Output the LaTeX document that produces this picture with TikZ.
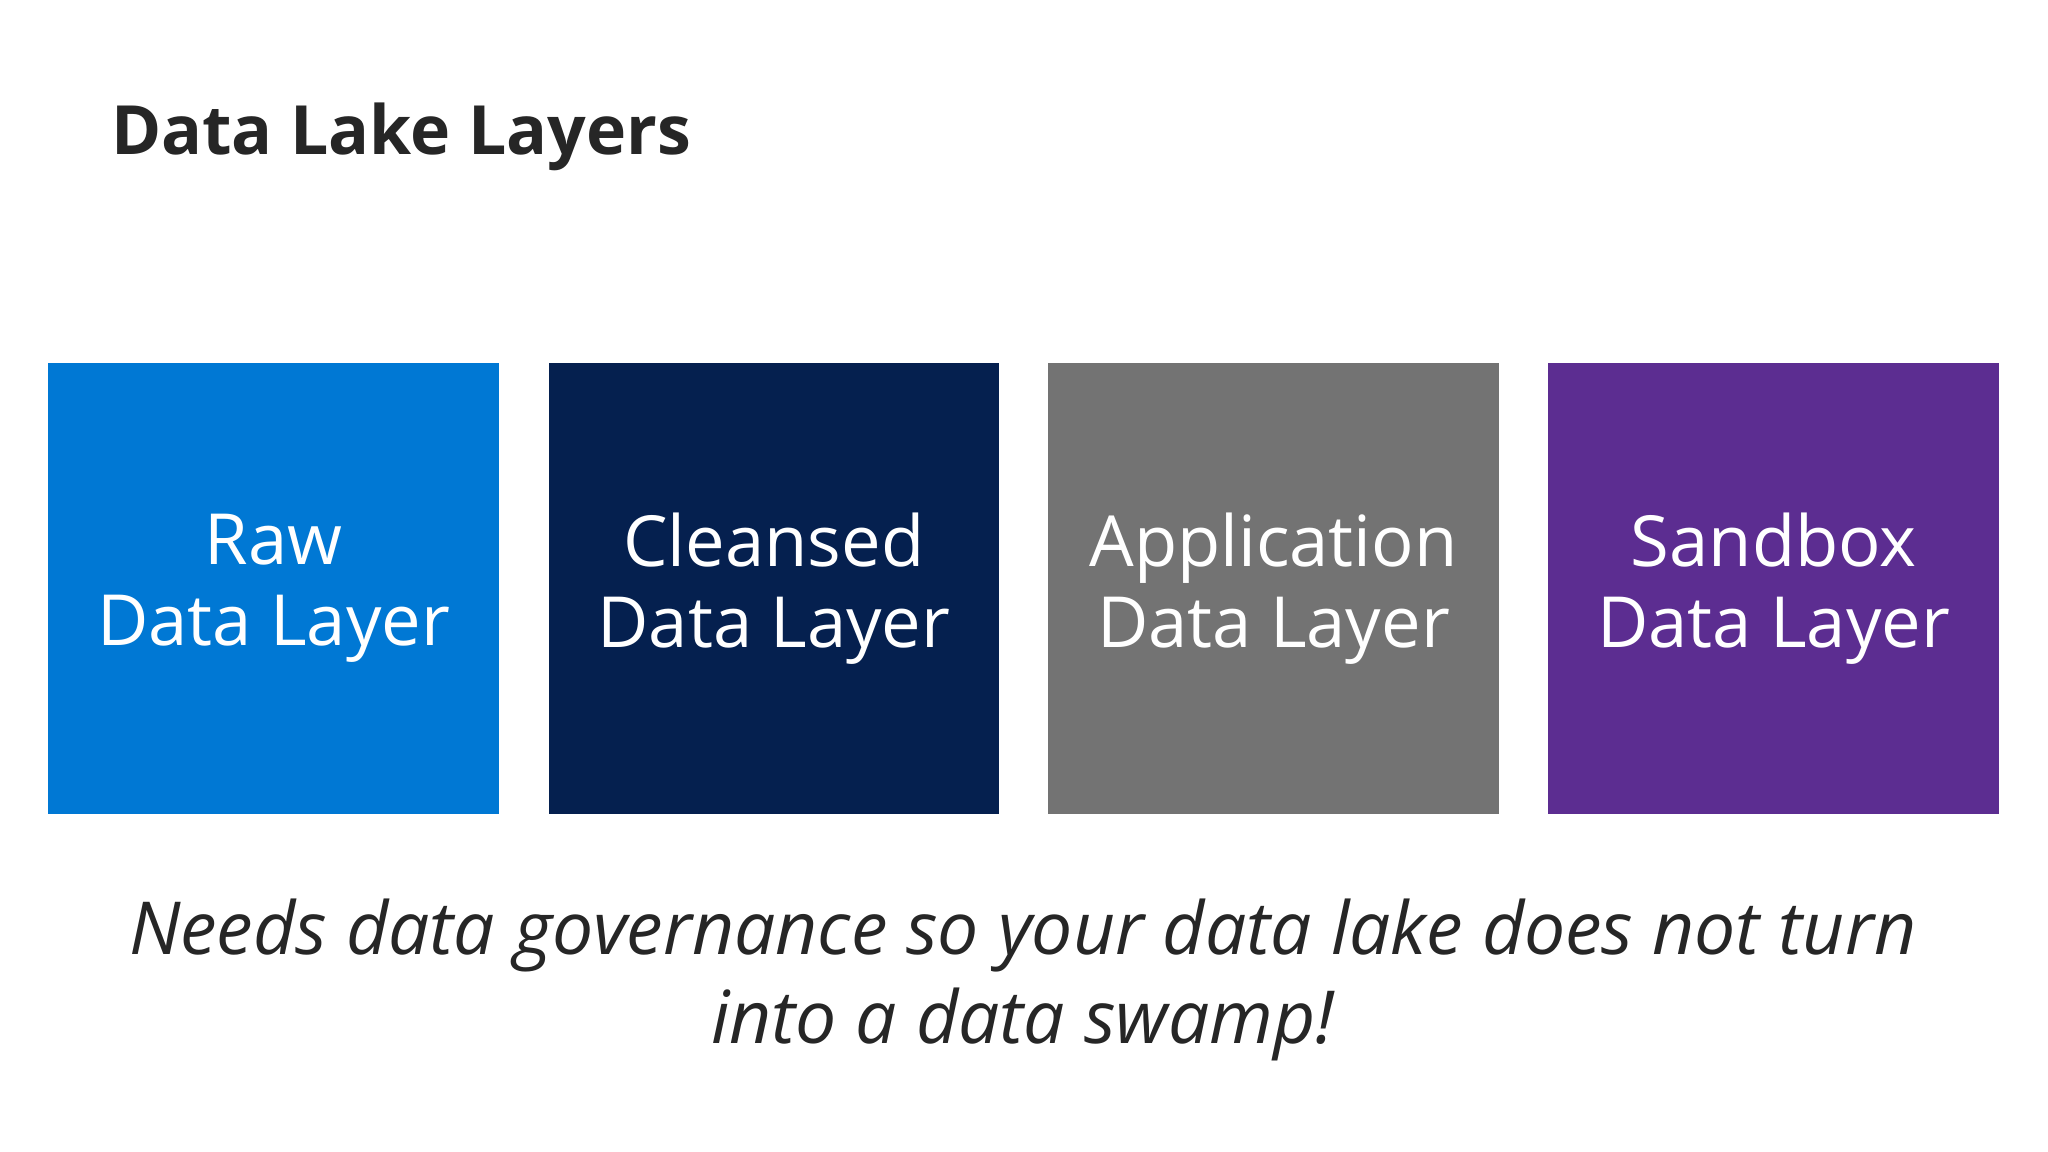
\documentclass[tikz,border=0pt]{standalone}
\usepackage{fontspec}
\setmainfont{Open Sans}
\definecolor{cblue}{HTML}{0078D4}
\definecolor{cnavy}{HTML}{05204F}
\definecolor{cgray}{HTML}{737373}
\definecolor{cpurple}{HTML}{5C2D91}
\definecolor{ctext}{HTML}{262626}
\begin{document}
\begin{tikzpicture}[x=0.5pt,y=-0.5pt,
  layer/.style={minimum width=172.5pt,minimum height=172.5pt,inner sep=0pt,text=white,align=center,font=\fontsize{27}{31}\selectfont}]
\useasboundingbox[fill=white] (0,0) rectangle (1568,882);
\node[anchor=base west,font=\fontsize{26}{30}\selectfont\bfseries,text=ctext] (title) at (78,118) {Data Lake Layers};
\node[layer,fill=cblue] (raw) at (209.5,450.5) {Raw\\Data Layer};
\node[layer,fill=cnavy] (cl) at (592.5,450.5) {Cleansed\\Data Layer};
\node[layer,fill=cgray] (app) at (975,450.5) {Application\\Data Layer};
\node[layer,fill=cpurple] (sb) at (1358,450.5) {Sandbox\\Data Layer};
\node[align=center,font=\fontsize{28}{34}\selectfont\itshape,text=ctext] (note) at (783,750) {Needs data governance so your data lake does not turn\\into a data swamp!};
\end{tikzpicture}
\end{document}
